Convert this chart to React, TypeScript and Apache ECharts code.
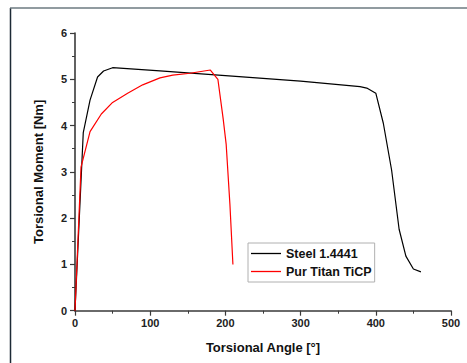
import React, { useEffect, useRef } from "react";
import * as echarts from "echarts";

const steelAngle = [0, 11, 20, 30, 38, 50, 113, 200, 300, 379, 388, 400, 410, 421, 431, 440, 450, 460];
const steelMoment = [0, 3.85, 4.55, 5.05, 5.18, 5.25, 5.18, 5.08, 4.96, 4.84, 4.81, 4.7, 4.05, 3.04, 1.76, 1.18, 0.9, 0.84];

const titanAngle = [0, 8, 20, 35, 50, 70, 90, 113, 130, 153, 180, 190, 197, 201, 206, 210];
const titanMoment = [0, 3.1, 3.87, 4.25, 4.5, 4.7, 4.88, 5.03, 5.09, 5.13, 5.2, 5.0, 4.15, 3.6, 2.3, 1.0];

const xTicks = { min: 0, max: 500, interval: 100 };
const yTicks = { min: 0, max: 6, interval: 1 };

const seriesNames = ["Steel 1.4441", "Pur Titan TiCP"];

const FONT = "'Liberation Sans', Arial, sans-serif";

export default function App() {
  const ref = useRef<HTMLDivElement>(null);
  useEffect(() => {
    if (!ref.current) return;
    const chart = echarts.init(ref.current, undefined, { renderer: "svg" });
    const axisCommon = {
      type: "value" as const,
      axisLine: { show: true, lineStyle: { color: "#3a3a3a", width: 1.6 } },
      axisTick: { show: true, inside: false, length: 5, lineStyle: { color: "#3a3a3a", width: 1.2 } },
      minorTick: { show: true, splitNumber: 2, length: 3, lineStyle: { color: "#3a3a3a", width: 1 } },
      splitLine: { show: false },
      axisLabel: { fontFamily: FONT, fontWeight: "bold" as const, fontSize: 11, color: "#222" },
      nameTextStyle: { fontFamily: FONT, fontWeight: "bold" as const, fontSize: 13, color: "#111" },
    };
    chart.setOption({
      animation: false,
      backgroundColor: "#fff",
      graphic: [
        { type: "line", shape: { x1: 10.5, y1: 8, x2: 10.5, y2: 363 }, style: { stroke: "#1c2a36", lineWidth: 1.5 } },
        { type: "line", shape: { x1: 10, y1: 8, x2: 467, y2: 8 }, style: { stroke: "#6d7a80", lineWidth: 1.5 } },
      ],
      grid: { left: 75, right: 16, top: 33, bottom: 52.3 },
      legend: {
        orient: "vertical",
        left: 248,
        top: 243,
        data: seriesNames,
        icon: "rect",
        itemWidth: 30,
        itemHeight: 1.3,
        itemGap: 3,
        padding: [3, 3, 3, 3],
        borderColor: "#b0b0b0",
        borderWidth: 1,
        textStyle: { fontFamily: FONT, fontWeight: "bold", fontSize: 12.5, color: "#111", lineHeight: 15, height: 15 },
      },
      xAxis: {
        ...axisCommon,
        ...xTicks,
        name: "Torsional Angle [°]",
        nameLocation: "middle",
        nameGap: 30,
        axisLabel: { ...axisCommon.axisLabel, margin: 7 },
      },
      yAxis: {
        ...axisCommon,
        ...yTicks,
        name: "Torsional Moment [Nm]",
        nameLocation: "middle",
        nameGap: 30,
        axisLabel: { ...axisCommon.axisLabel, margin: 8 },
      },
      series: [
        {
          name: seriesNames[0],
          type: "line",
          symbol: "none",
          data: steelAngle.map((a, i) => [a, steelMoment[i]]),
          lineStyle: { color: "#000", width: 1.2 },
          itemStyle: { color: "#000" },
        },
        {
          name: seriesNames[1],
          type: "line",
          symbol: "none",
          data: titanAngle.map((a, i) => [a, titanMoment[i]]),
          lineStyle: { color: "#ff0000", width: 1.2 },
          itemStyle: { color: "#ff0000" },
        },
      ],
    });
    return () => chart.dispose();
  }, []);
  return <div ref={ref} style={{ position: "fixed", left: 0, top: 0, width: 467, height: 363 }} />;
}
